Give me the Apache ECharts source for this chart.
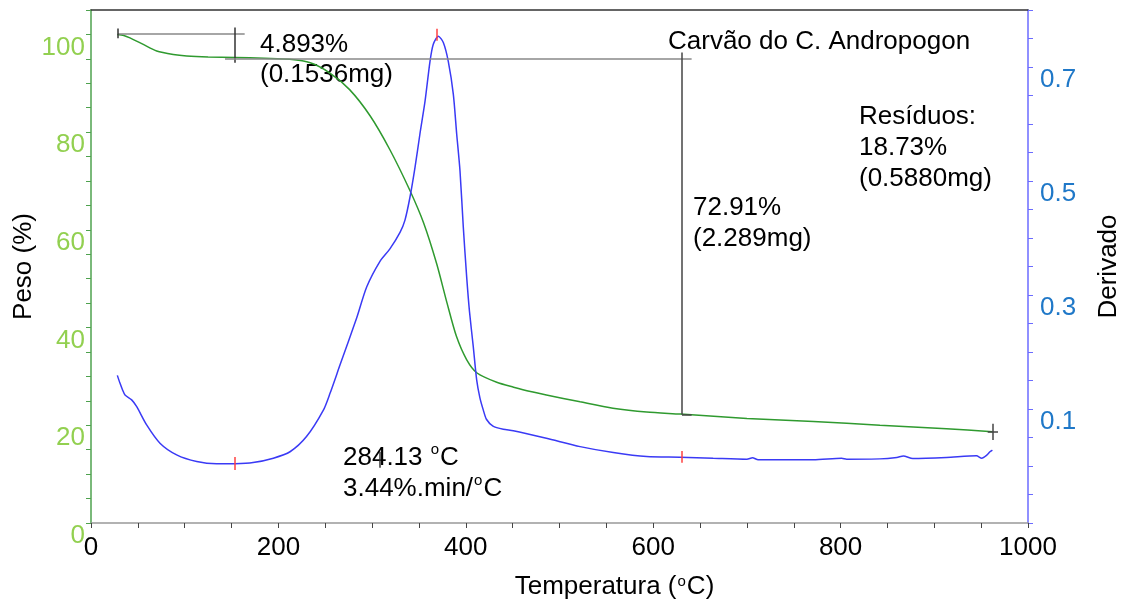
<!DOCTYPE html>
<html>
<head>
<meta charset="utf-8">
<script src="https://cdn.jsdelivr.net/npm/echarts@6/dist/echarts.min.js"></script>
<style>
  html, body { margin: 0; padding: 0; background: #fff; }
  #main { width: 1126px; height: 601px; }
</style>
</head>
<body>
<div id="main"></div>
<script>
// curva TG (peso %)
var tgTemp = [28.1, 35, 41.6, 55.8, 70.1, 87.8, 102.1, 125, 153.7, 185, 212, 234, 255, 276, 298, 319, 340, 355, 369, 380, 390, 401, 412, 433, 451, 469, 486, 522, 557, 593, 629, 700, 771, 842, 913, 962];
var tgPeso = [100, 99.8, 99.3, 97.95, 96.6, 95.9, 95.6, 95.4, 95.3, 95.1, 94.9, 94.2, 92.1, 88.7, 83.3, 76.4, 68.2, 61.4, 53, 45, 38.2, 33.4, 30.7, 28.8, 27.8, 26.9, 26.2, 24.8, 23.5, 22.7, 22.3, 21.4, 20.8, 20.0, 19.3, 18.7];

// curva DTG (derivado)
var dtgTemp = [28.1, 31, 33.8, 36.3, 43.4, 48.8, 59.4, 73.6, 91.4, 112.8, 134, 153.7, 173, 194.6, 212.4, 230, 248, 255, 265.7, 283.6, 294.2, 308.4, 319, 329.8, 335, 340.4, 345.8, 351, 356.5, 361.8, 365.3, 370.7, 376, 381.3, 386.7, 390.3, 393.8, 397.3, 401, 404, 408, 411.6, 415, 418.7, 422, 429, 440, 450.7, 486, 522, 557.4, 593, 628.6, 664, 700, 706, 712, 735, 771, 801, 806.5, 842, 860, 867, 877, 913, 945, 950.6, 956, 959.4, 962];
var dtgVal = [0.159, 0.145, 0.133, 0.1245, 0.116, 0.104, 0.072, 0.040, 0.0195, 0.0078, 0.0038, 0.004, 0.006, 0.0137, 0.025, 0.0516, 0.098, 0.127, 0.177, 0.26, 0.314, 0.359, 0.381, 0.41, 0.431, 0.4715, 0.524, 0.582, 0.64, 0.71, 0.74, 0.754, 0.743, 0.71, 0.652, 0.582, 0.518, 0.42, 0.33, 0.27, 0.209, 0.151, 0.12, 0.098, 0.082, 0.070, 0.0645, 0.062, 0.0487, 0.034, 0.0236, 0.0165, 0.0155, 0.0137, 0.012, 0.0145, 0.011, 0.011, 0.011, 0.0135, 0.012, 0.0125, 0.015, 0.0175, 0.013, 0.0148, 0.0178, 0.0137, 0.019, 0.025, 0.028];

// marcas das etapas (temperatura, peso)
var tgMarcas = [
  [[28.8, 100.2], [164, 100.2]],
  [[28.8, 99.2], [28.8, 101.2]],
  [[153.7, 94.2], [153.7, 101.4]],
  [[143, 95.1], [641, 95.1]],
  [[630.7, 96.3], [630.7, 22.2]],
  [[630.7, 22.2], [641, 22.2]],
  [[962.6, 17.0], [962.6, 20.3]],
  [[957, 18.7], [968, 18.7]]
];
// marcas na DTG (temperatura, derivado)
var dtgMarcasVermelhas = [
  [[369.5, 0.746], [369.5, 0.767]],
  [[153.7, -0.007], [153.7, 0.016]],
  [[630.7, 0.0055], [630.7, 0.0265]]
];
var dtgMarcaPreta = [[[308, -0.003], [308, 0.025]]];

var xLabels = [0, 200, 400, 600, 800, 1000];
var pesoLabels = [0, 20, 40, 60, 80, 100];
var derivLabels = [0.1, 0.3, 0.5, 0.7];

function zip(a, b) {
  var out = [];
  for (var i = 0; i < a.length; i++) out.push([a[i], b[i]]);
  return out;
}
function segs(list, color, width) {
  return list.map(function (s) {
    return [
      { coord: s[0], lineStyle: { color: color, width: width, type: 'solid' } },
      { coord: s[1] }
    ];
  });
}

var FONT = 'Liberation Sans, Arial, sans-serif';
var sup = { s: { fontSize: 15, fontFamily: FONT, verticalAlign: 'top', padding: [0, 1, 0, 1] } };

var chart = echarts.init(document.getElementById('main'));
chart.setOption({
  animation: false,
  backgroundColor: '#ffffff',
  textStyle: { fontFamily: FONT },
  grid: { left: 91, right: 98, top: 10, bottom: 78, containLabel: false, outerBoundsMode: 'none' },
  xAxis: [{
    type: 'value', min: 0, max: 1000, interval: 50,
    name: 'Temperatura ({s|o}C)', nameLocation: 'middle', nameGap: 51,
    nameTextStyle: { color: '#000', fontSize: 26, fontFamily: FONT, rich: sup, padding: [0, 0, 0, 110] },
    axisLine: { onZero: false, lineStyle: { color: '#999', width: 1.5 } },
    axisTick: { length: 5, lineStyle: { color: '#444' } },
    axisLabel: {
      color: '#000', fontSize: 26, fontFamily: FONT, margin: 12,
      formatter: function (v) { return xLabels.indexOf(v) >= 0 ? String(v) : ''; }
    },
    splitLine: { show: false }
  }, {
    type: 'value', position: 'top', min: 0, max: 1000,
    axisLine: { show: true, onZero: false, lineStyle: { color: '#333', width: 1.5 } },
    axisTick: { show: false }, axisLabel: { show: false }, splitLine: { show: false }
  }],
  yAxis: [{
    type: 'value', position: 'left', min: 0, max: 105, interval: 5,
    name: 'Peso (%)', nameLocation: 'middle', nameGap: 54, nameRotate: 90, nameMoveOverlap: false,
    nameTextStyle: { color: '#000', fontSize: 26, fontFamily: FONT },
    axisLine: { show: true, onZero: false, lineStyle: { color: '#4ea24e', width: 1.5 } },
    axisTick: { length: 5, lineStyle: { color: '#4ea24e' } },
    axisLabel: {
      color: '#92d050', fontSize: 26, fontFamily: FONT, margin: 6, verticalAlign: 'top',
      formatter: function (v) { return pesoLabels.indexOf(v) >= 0 ? String(v) : ''; }
    },
    splitLine: { show: false }
  }, {
    type: 'value', position: 'right', min: -0.1, max: 0.8, interval: 0.05,
    name: 'Derivado', nameLocation: 'middle', nameGap: 68, nameRotate: 90,
    nameTextStyle: { color: '#000', fontSize: 26, fontFamily: FONT },
    axisLine: { show: true, onZero: false, lineStyle: { color: '#6b6bff', width: 1.5 } },
    axisTick: { length: 5, lineStyle: { color: '#6b6bff' } },
    axisLabel: {
      color: '#1f78c8', fontSize: 26, fontFamily: FONT, margin: 12, verticalAlign: 'top',
      formatter: function (v) {
        var r = Math.round(v * 100) / 100;
        return derivLabels.indexOf(r) >= 0 ? r.toFixed(1) : '';
      }
    },
    splitLine: { show: false }
  }],
  series: [{
    name: 'TG', type: 'line', xAxisIndex: 0, yAxisIndex: 0,
    data: zip(tgTemp, tgPeso),
    showSymbol: false, smooth: 0.25,
    lineStyle: { color: '#2f9a2f', width: 1.5 },
    markLine: {
      silent: true, symbol: 'none', label: { show: false },
      data: segs(tgMarcas.slice(0, 1), '#888', 1.5)
        .concat(segs(tgMarcas.slice(1, 3), '#333', 1.5))
        .concat(segs(tgMarcas.slice(3, 4), '#888', 1.5))
        .concat(segs(tgMarcas.slice(4), '#444', 1.5))
    }
  }, {
    name: 'DTG', type: 'line', xAxisIndex: 0, yAxisIndex: 1,
    data: zip(dtgTemp, dtgVal),
    showSymbol: false, smooth: 0.25,
    lineStyle: { color: '#3a3af5', width: 1.5 },
    markLine: {
      silent: true, symbol: 'none', label: { show: false },
      data: segs(dtgMarcasVermelhas, '#ff4040', 1.5).concat(segs(dtgMarcaPreta, '#333', 1.5))
    }
  }],
  graphic: [
    { type: 'text', left: 260, top: 30, style: { text: '4.893%\n(0.1536mg)', fill: '#000', fontSize: 26, fontFamily: FONT, lineHeight: 30 } },
    { type: 'text', left: 668, top: 29, style: { text: 'Carvão do C. Andropogon', fill: '#000', fontSize: 26, fontFamily: FONT } },
    { type: 'text', left: 859, top: 101, style: { text: 'Resíduos:\n18.73%\n(0.5880mg)', fill: '#000', fontSize: 26, fontFamily: FONT, lineHeight: 31 } },
    { type: 'text', left: 693, top: 192, style: { text: '72.91%\n(2.289mg)', fill: '#000', fontSize: 26, fontFamily: FONT, lineHeight: 31 } },
    { type: 'text', left: 343, top: 442, style: { text: '284.13 {s|o}C\n3.44%.min/{s|o}C', fill: '#000', fontSize: 26, fontFamily: FONT, lineHeight: 31, rich: sup } }
  ]
});
</script>
</body>
</html>
